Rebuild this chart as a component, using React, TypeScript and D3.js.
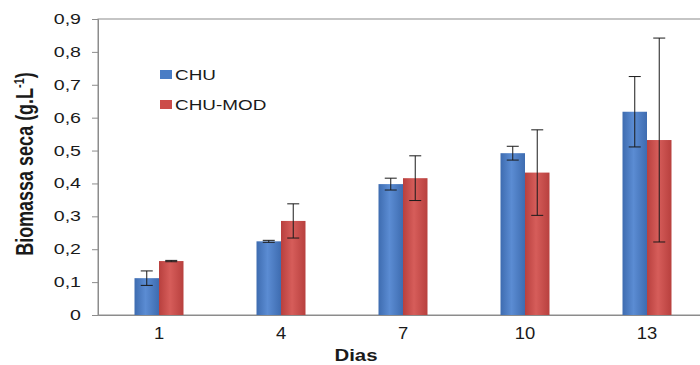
import React, { useRef, useEffect } from 'react';
import * as d3 from 'd3';

const days = ['1', '4', '7', '10', '13'];
const seriesNames = ['CHU', 'CHU-MOD'];
const chuValues = [0.112, 0.224, 0.398, 0.492, 0.618];
const chuErrors = [0.022, 0.003, 0.018, 0.021, 0.107];
const chuModValues = [0.164, 0.286, 0.416, 0.433, 0.532];
const chuModErrors = [0.002, 0.052, 0.068, 0.13, 0.31];
const yTickValues = [0, 0.1, 0.2, 0.3, 0.4, 0.5, 0.6, 0.7, 0.8, 0.9];

const colors = ['#4a7dc5', '#cc4d4a'];

const App = () => {
  const ref = useRef<SVGSVGElement>(null);

  useEffect(() => {
    const width = 700;
    const height = 365;
    const svg = d3.select(ref.current).attr('width', width).attr('height', height);
    svg.selectAll('*').remove();

    const margin = { top: 19, left: 98, bottom: 50 };
    const plotRight = margin.left + 5 * 122; // plot runs past the right edge
    const plotBottom = height - margin.bottom;

    const x0 = d3.scaleBand().domain(days).range([margin.left, plotRight]).padding(0);
    const x1 = d3.scaleBand().domain(seriesNames).range([0, x0.bandwidth()]).paddingInner(0).paddingOuter(1.49);
    const y = d3.scaleLinear().domain([0, 0.9]).range([plotBottom, margin.top]);

    const fmt = (d: number) => (d === 0 ? '0' : d.toFixed(1).replace('.', ','));

    // gradients for the bars
    const defs = svg.append('defs');
    const grads = [
      ['#3e6cb0', '#5b8cd3'],
      ['#b8403e', '#d65d5a'],
    ];
    grads.forEach((g, i) => {
      const lg = defs.append('linearGradient').attr('id', `bar${i}`).attr('x1', 0).attr('x2', 1).attr('y1', 0).attr('y2', 0);
      lg.append('stop').attr('offset', '0%').attr('stop-color', g[0]);
      lg.append('stop').attr('offset', '45%').attr('stop-color', g[1]);
      lg.append('stop').attr('offset', '100%').attr('stop-color', g[0]);
    });

    // plot frame
    svg.append('rect')
      .attr('x', margin.left)
      .attr('y', margin.top)
      .attr('width', plotRight - margin.left)
      .attr('height', plotBottom - margin.top)
      .attr('fill', 'white')
      .attr('stroke', '#8c8c8c')
      .attr('stroke-width', 1);

    const rows = days.map((d, i) => ({
      day: d,
      vals: [
        { key: 'CHU', v: chuValues[i], e: chuErrors[i] },
        { key: 'CHU-MOD', v: chuModValues[i], e: chuModErrors[i] },
      ],
    }));

    const groups = svg.append('g').selectAll('g').data(rows).join('g')
      .attr('transform', d => `translate(${x0(d.day)},0)`);

    groups.selectAll('rect').data(d => d.vals).join('rect')
      .attr('x', d => x1(d.key)!)
      .attr('y', d => y(d.v))
      .attr('width', x1.bandwidth())
      .attr('height', d => plotBottom - y(d.v))
      .attr('fill', (d, i) => `url(#bar${i})`);

    const capW = 12;
    const err = groups.selectAll('g.err').data(d => d.vals).join('g').attr('class', 'err')
      .attr('stroke', '#1a1a1a').attr('stroke-width', 1);
    err.append('line')
      .attr('x1', d => x1(d.key)! + x1.bandwidth() / 2)
      .attr('x2', d => x1(d.key)! + x1.bandwidth() / 2)
      .attr('y1', d => y(d.v + d.e))
      .attr('y2', d => y(d.v - d.e));
    [1, -1].forEach(s => {
      err.append('line')
        .attr('x1', d => x1(d.key)! + x1.bandwidth() / 2 - capW / 2)
        .attr('x2', d => x1(d.key)! + x1.bandwidth() / 2 + capW / 2)
        .attr('y1', d => y(d.v + s * d.e))
        .attr('y2', d => y(d.v + s * d.e));
    });

    // y axis
    const sy = 1.4;
    const yAxis = svg.append('g').attr('transform', `translate(${margin.left},0)`)
      .call(d3.axisLeft(y).tickValues(yTickValues).tickFormat(d => fmt(d as number)).tickSize(6).tickPadding(11));
    yAxis.select('.domain').attr('stroke', '#8c8c8c');
    yAxis.selectAll('.tick line').attr('stroke', '#8c8c8c');
    yAxis.selectAll('.tick text')
      .attr('x', -17 / sy)
      .attr('transform', `scale(${sy},1)`)
      .attr('font-family', 'Liberation Sans, Arial, sans-serif')
      .attr('font-size', 14)
      .attr('fill', '#1a1a1a');

    // x axis
    const sx = 1.15;
    const xAxis = svg.append('g').attr('transform', `translate(0,${plotBottom})`)
      .call(d3.axisBottom(x0).tickSize(0).tickPadding(13));
    xAxis.select('.domain').attr('stroke', '#8c8c8c');
    xAxis.selectAll('.tick text')
      .attr('transform', `scale(${sx},1)`)
      .attr('font-family', 'Liberation Sans, Arial, sans-serif')
      .attr('font-size', 16)
      .attr('fill', '#1a1a1a');

    // axis titles
    svg.append('text')
      .attr('transform', `translate(356,361) scale(1.2,1)`)
      .attr('text-anchor', 'middle')
      .attr('font-family', 'Liberation Sans, Arial, sans-serif')
      .attr('font-weight', 'bold')
      .attr('font-size', 17)
      .attr('fill', '#1a1a1a')
      .text('Dias');

    const yTitle = svg.append('text')
      .attr('transform', `translate(33,164) scale(1.3,1) rotate(-90)`)
      .attr('text-anchor', 'middle')
      .attr('font-family', 'Liberation Sans, Arial, sans-serif')
      .attr('font-weight', 'bold')
      .attr('font-size', 18)
      .attr('fill', '#1a1a1a');
    yTitle.append('tspan').text('Biomassa seca (g.L');
    yTitle.append('tspan').attr('dy', -7).attr('font-size', 11).text('-1');
    yTitle.append('tspan').attr('dy', 7).text(')');

    // legend
    const legend = svg.append('g');
    seriesNames.forEach((name, i) => {
      const ly = 70 + i * 30;
      legend.append('rect').attr('x', 160).attr('y', ly).attr('width', 12).attr('height', 9).attr('fill', colors[i]);
      legend.append('text')
        .attr('transform', `translate(175,${ly + 10}) scale(1.35,1)`)
        .attr('font-family', 'Liberation Sans, Arial, sans-serif')
        .attr('font-size', 14)
        .attr('fill', '#1a1a1a')
        .text(name);
    });
  }, []);

  return <svg ref={ref} style={{ position: 'absolute', left: 0, top: 0, display: 'block', background: 'white' }}></svg>;
};

export default App;
